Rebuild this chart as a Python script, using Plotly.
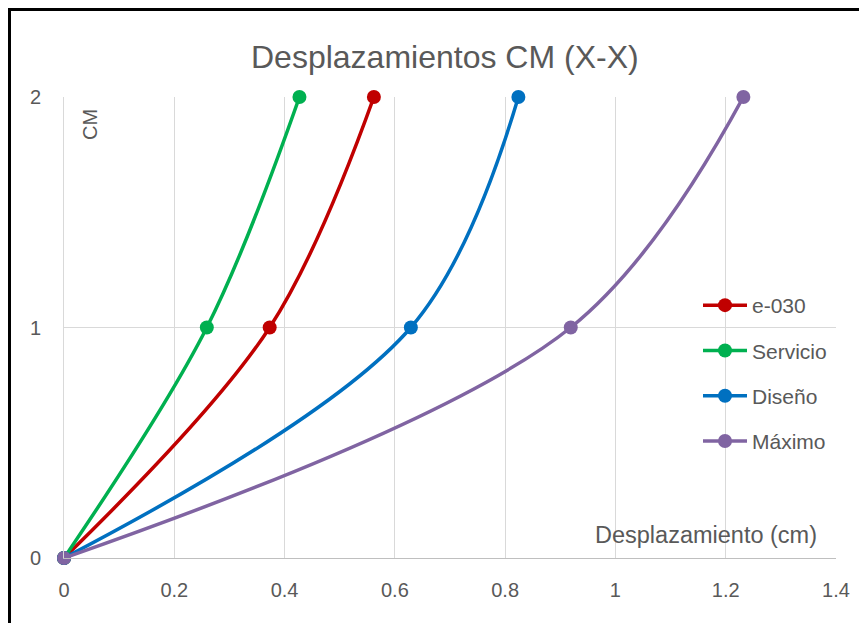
import plotly.graph_objects as go

niveles = [0, 1, 2]
series_names = ["e-030", "Servicio", "Diseño", "Máximo"]
e030 = [0, 0.373, 0.562]
servicio = [0, 0.259, 0.427]
diseno = [0, 0.629, 0.824]
maximo = [0, 0.919, 1.232]
colors = ["#C00000", "#00B050", "#0070C0", "#8064A2"]
x_ticks = [0, 0.2, 0.4, 0.6, 0.8, 1, 1.2, 1.4]
x_tick_labels = ["0", "0.2", "0.4", "0.6", "0.8", "1", "1.2", "1.4"]
y_ticks = [0, 1, 2]

FONT = "Liberation Sans, Arial, sans-serif"
TXT = "#595959"

# page body has an 8px margin, so the figure is drawn at (8,8)
W, H = 859, 615
ML, MR, MT, MB = 56, 31, 89, 65
PW = W - ML - MR
PH = H - MT - MB


def px_x(page_x):
    return (page_x - 8 - ML) / PW


def px_y(page_y):
    return (H - MB - (page_y - 8)) / PH


fig = go.Figure()
for name, vals, col in zip(series_names, [e030, servicio, diseno, maximo], colors):
    fig.add_trace(go.Scatter(
        x=vals, y=niveles, name=name, mode="lines+markers",
        line=dict(color=col, width=3.5, shape="spline", smoothing=1),
        marker=dict(color=col, size=14),
        cliponaxis=False, legendgroup=name,
    ))

fig.update_layout(
    width=W, height=H,
    margin=dict(l=ML, r=MR, t=MT, b=MB),
    paper_bgcolor="white", plot_bgcolor="white",
    font=dict(family=FONT, color=TXT, size=20),
    showlegend=True,
    legend=dict(x=px_x(698), y=px_y(285), xanchor="left", yanchor="top",
                bgcolor="rgba(0,0,0,0)", font=dict(size=21, color=TXT),
                tracegroupgap=15, itemwidth=44),
    xaxis=dict(range=[0, 1.4], tickvals=x_ticks, ticktext=x_tick_labels,
               showgrid=True, gridcolor="#D9D9D9", gridwidth=1,
               zeroline=False, showline=True, linecolor="#BFBFBF", linewidth=1,
               ticks="", ticklabelstandoff=14, tickfont=dict(size=20, color=TXT)),
    yaxis=dict(range=[0, 2], tickvals=y_ticks,
               showgrid=True, gridcolor="#D9D9D9", gridwidth=1,
               zeroline=False, showline=True, linecolor="#D9D9D9", linewidth=1,
               ticks="", ticklabelstandoff=18, tickfont=dict(size=20, color=TXT)),
    annotations=[
        dict(text="Desplazamientos CM (X-X)", x=px_x(445), y=px_y(57),
             xref="paper", yref="paper", xanchor="center", yanchor="middle",
             showarrow=False, font=dict(size=32, color=TXT)),
        dict(text="CM", x=px_x(90), y=px_y(125), xref="paper", yref="paper",
             xanchor="center", yanchor="middle", textangle=-90,
             showarrow=False, font=dict(size=20, color=TXT)),
        dict(text="Desplazamiento (cm)", x=px_x(819), y=px_y(535),
             xref="paper", yref="paper", xanchor="right", yanchor="middle",
             showarrow=False, font=dict(size=23.5, color=TXT)),
    ],
    shapes=[
        dict(type="line", xref="paper", yref="paper", x0=px_x(7), x1=px_x(900),
             y0=px_y(9.5), y1=px_y(9.5), line=dict(color="black", width=3)),
        dict(type="line", xref="paper", yref="paper", x0=px_x(9.5), x1=px_x(9.5),
             y0=px_y(8), y1=px_y(640), line=dict(color="black", width=3)),
    ],
)

fig.write_html("out.html")
